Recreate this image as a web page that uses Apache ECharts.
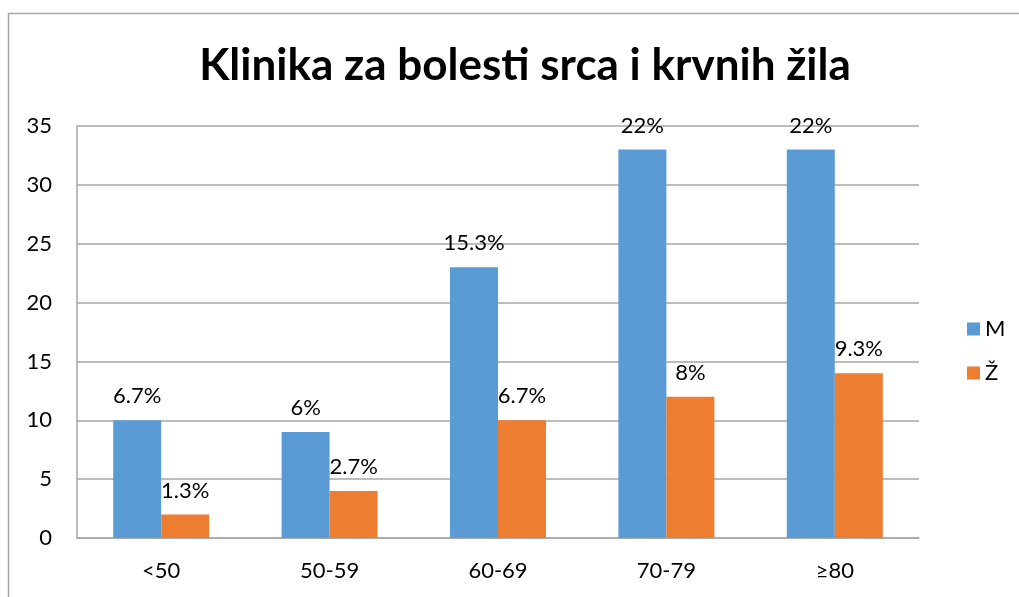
<!DOCTYPE html>
<html><head><meta charset="utf-8">
<script src="https://cdn.jsdelivr.net/npm/echarts@6/dist/echarts.min.js"></script>
<style>html,body{margin:0;padding:0;background:#fff}#c{width:1019px;height:597px}</style>
</head><body><div id="c"></div>
<script>
const categories = ['<50', '50-59', '60-69', '70-79', '≥80'];
const seriesNames = ['M', 'Ž'];
const valuesM = [10, 9, 23, 33, 33];
const valuesZ = [2, 4, 10, 12, 14];
const labelsM = ['6.7%', '6%', '15.3%', '22%', '22%'];
const labelsZ = ['1.3%', '2.7%', '6.7%', '8%', '9.3%'];
const yTicks = [0, 5, 10, 15, 20, 25, 30, 35];

const FONT = 'Lato, "Open Sans", sans-serif';
const chart = echarts.init(document.getElementById('c'), null, {renderer: 'canvas'});
function mkLabel(arr) {
  return {show: true, position: 'top', distance: 13, color: '#000', fontSize: 22, fontFamily: FONT,
    formatter: p => arr[p.dataIndex]};
}
chart.setOption({
  animation: false,
  backgroundColor: '#fff',
  title: {text: 'Klinika za bolesti srca i krvnih žila', left: 520, top: 39, textAlign: 'center',
    textStyle: {fontSize: 44, fontWeight: 'bold', color: '#000', fontFamily: FONT}},
  graphic: [{type: 'rect', shape: {x: 8.5, y: 13.5, width: 1200, height: 800},
    style: {fill: 'none', stroke: '#a6a6a6', lineWidth: 1.5}, silent: true}],
  legend: {orient: 'vertical', left: 962, top: 313, itemWidth: 13, itemHeight: 13, itemGap: 22,
    icon: 'rect', textStyle: {fontSize: 22, color: '#000', fontFamily: FONT}, data: seriesNames},
  grid: {left: 77, right: 100, top: 126, bottom: 59, containLabel: false},
  xAxis: {type: 'category', data: categories,
    axisLine: {lineStyle: {color: '#a6a6a6', width: 1.5}}, axisTick: {show: false},
    axisLabel: {fontSize: 22, color: '#000', fontFamily: FONT, margin: 22}},
  yAxis: {type: 'value', min: yTicks[0], max: yTicks[yTicks.length - 1], interval: 5,
    axisLine: {show: true, lineStyle: {color: '#a6a6a6', width: 1.5}}, axisTick: {show: false},
    splitLine: {lineStyle: {color: '#a6a6a6', width: 1.5}},
    axisLabel: {fontSize: 22, color: '#000', fontFamily: FONT, margin: 25}},
  series: [
    {name: seriesNames[0], type: 'bar', data: valuesM, barWidth: 48, barGap: '0%',
      itemStyle: {color: '#5b9bd5'}, label: mkLabel(labelsM)},
    {name: seriesNames[1], type: 'bar', data: valuesZ, barWidth: 48, barGap: '0%',
      itemStyle: {color: '#ed7d31'}, label: mkLabel(labelsZ)}
  ]
});
</script></body></html>
